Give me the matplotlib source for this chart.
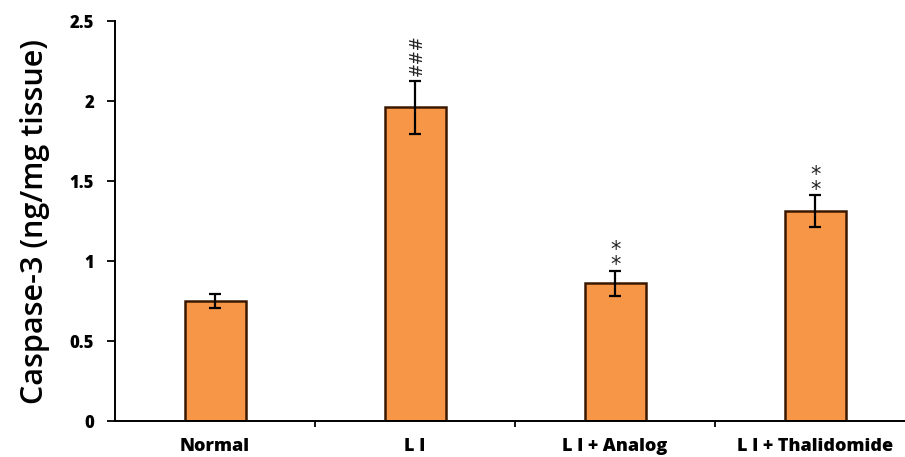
import matplotlib
matplotlib.use("Agg")
import matplotlib.pyplot as plt
import numpy as np

# Data
groups = ["Normal", "L I", "L I + Analog", "L I + Thalidomide"]
caspase = [0.75, 1.96, 0.86, 1.31]
sem = [0.045, 0.165, 0.08, 0.10]
marks = ["", "###", "**", "**"]

fig = plt.figure(figsize=(9.05, 4.57), dpi=100)
ax = fig.add_axes([115 / 905, 36 / 457, 800 / 905, 400 / 457])

x = np.arange(len(groups))
ax.bar(x, caspase, width=0.305, color="#F79646", edgecolor="#3a1800", linewidth=1.8, zorder=2)
ax.errorbar(x, caspase, yerr=sem, fmt="none", ecolor="black", elinewidth=1.6,
            capsize=4.5, capthick=1.6, zorder=3)

for xi, v, e, m in zip(x, caspase, sem, marks):
    if m == "###":
        ax.text(xi + 0.01, v + e + 0.03, m, rotation=90, ha="center", va="bottom",
                fontsize=12, color="#222222")
    elif m:
        # stars stacked one above the other
        ax.text(xi + 0.005, v + e - 0.03, "\n".join(m), ha="center", va="bottom",
                fontsize=15, linespacing=0.7, color="#222222")

ax.set_xlim(-0.5, 3.5)
ax.set_ylim(0, 2.5)
ax.set_yticks([0, 0.5, 1, 1.5, 2, 2.5])
ax.set_yticklabels(["0", "0.5", "1", "1.5", "2", "2.5"], fontfamily="Open Sans",
                   fontweight="heavy", fontsize=12)
ax.set_xticks(x)
ax.set_xticklabels(groups, fontfamily="Open Sans", fontweight="heavy", fontsize=13)
ax.set_xticks([0.5, 1.5, 2.5], minor=True)
ax.tick_params(axis="x", which="major", length=0, pad=12)
ax.tick_params(axis="x", which="minor", length=4, width=1.3, direction="out")
ax.tick_params(axis="y", length=6, width=1.3, direction="out", pad=9)

ax.set_ylabel("Caspase-3 (ng/mg tissue)", fontfamily="Open Sans", fontweight="semibold",
              fontsize=22, labelpad=14)

for side in ["top", "right"]:
    ax.spines[side].set_visible(False)
for side in ["left", "bottom"]:
    ax.spines[side].set_linewidth(1.4)
    ax.spines[side].set_color("black")

fig.savefig("out.png", dpi=100)
